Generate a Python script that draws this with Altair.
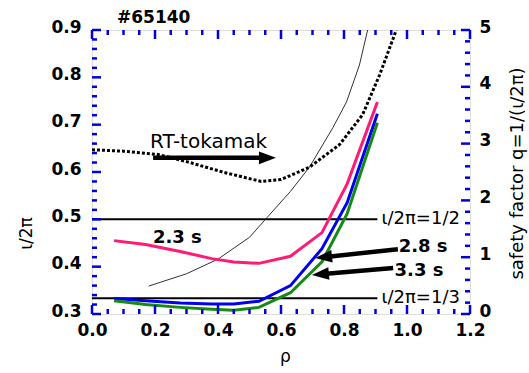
import altair as alt
import pandas as pd

FONT = "DejaVu Sans"
AXIS_BLUE = "#0000dd"
PINK = "#ff1a75"
BLUE = "#0000ee"
GREEN = "#158a15"

# ---- data (rho, iota/2pi) ----
rho_23 = [0.07, 0.17, 0.28, 0.38, 0.45, 0.53, 0.63, 0.73, 0.81, 0.906]
iota_23 = [0.455, 0.447, 0.432, 0.417, 0.410, 0.407, 0.422, 0.472, 0.575, 0.748]
rho_28 = [0.07, 0.17, 0.28, 0.38, 0.45, 0.53, 0.63, 0.73, 0.81, 0.906]
iota_28 = [0.333, 0.328, 0.323, 0.321, 0.321, 0.327, 0.360, 0.438, 0.535, 0.723]
rho_33 = [0.07, 0.17, 0.28, 0.38, 0.45, 0.53, 0.63, 0.73, 0.81, 0.906]
iota_33 = [0.328, 0.320, 0.314, 0.310, 0.308, 0.314, 0.345, 0.410, 0.512, 0.704]
rho_rt = [0.0, 0.1, 0.21, 0.3, 0.42, 0.537, 0.6, 0.69, 0.786, 0.859, 0.913, 0.966]
iota_rt = [0.647, 0.644, 0.637, 0.622, 0.599, 0.580, 0.584, 0.610, 0.658, 0.721, 0.805, 0.9]
rho_thin = [0.18, 0.3, 0.4, 0.5, 0.556, 0.63, 0.69, 0.765, 0.808, 0.849, 0.875]
iota_thin = [0.359, 0.385, 0.416, 0.462, 0.504, 0.559, 0.610, 0.694, 0.748, 0.826, 0.9]

res_iota = [0.5, 1 / 3]
res_x_end = [0.906, 0.906]
res_labels = ["\u03b9/2\u03c0=1/2", "\u03b9/2\u03c0=1/3"]
res_label_x = [1.168, 1.168]

time_labels = ["2.3 s", "2.8 s", "3.3 s"]
time_label_x = [0.271, 1.051, 1.038]
time_label_y = [0.461, 0.442, 0.390]

rt_label = ["RT-tokamak"]
rt_label_x = [0.370]
rt_label_y = [0.663]

# arrows: tail -> head centre (data units), head angle (deg)
arrow_x = [0.194, 0.971, 0.956]
arrow_y = [0.630, 0.437, 0.397]
arrow_x2 = [0.557, 0.735, 0.725]
arrow_y2 = [0.630, 0.420, 0.384]
arrow_ang = [0, 173.8, 175]

# tick values
x_major = [0.0, 0.2, 0.4, 0.6, 0.8, 1.0, 1.2]
x_minor = [round(i * 0.05, 2) for i in range(25) if i % 4]
y_major = [0.3, 0.4, 0.5, 0.6, 0.7, 0.8, 0.9]
y_minor = [round(0.3 + i * 0.02, 2) for i in range(31) if i % 5]
q_major = [0, 1, 2, 3, 4, 5]
q_minor = [round(i * 0.2, 1) for i in range(26) if i % 5]

W, H = 378, 284
MAJ, MIN = 9, 5

def curve(xs, ys):
    return pd.DataFrame({"x": xs, "y": ys})

x_axis = alt.Axis(values=x_major, format=".1f", ticks=False, domain=False, grid=False,
                  labelFont=FONT, labelFontSize=17, labelFontWeight="bold", labelColor="black",
                  labelPadding=8, labelFlush=False, labelOverlap=False,
                  title="\u03c1", titleFont=FONT, titleFontSize=17, titleFontWeight="normal",
                  titleX=193, titleY=47, titleBaseline="alphabetic", titleColor="black")
y_axis = alt.Axis(values=y_major, format=".1f", ticks=False, domain=False, grid=False,
                  labelFont=FONT, labelFontSize=17, labelFontWeight="bold", labelColor="black",
                  labelPadding=11, labelFlush=False, labelOverlap=False, labelOffset=-3,
                  title="\u03b9/2\u03c0", titleFont=FONT, titleFontSize=17, titleFontWeight="normal",
                  titleX=-66, titleY=203, titleAngle=270, titleAlign="center",
                  titleBaseline="middle", titleColor="black")
q_axis = alt.Axis(values=q_major, format="d", orient="right", ticks=False, domain=False, grid=False,
                  labelFont=FONT, labelFontSize=17, labelFontWeight="bold", labelColor="black",
                  labelPadding=9, labelFlush=False, labelOverlap=False, labelOffset=-3,
                  title="safety factor q=1/(\u03b9/2\u03c0)", titleFont=FONT, titleFontSize=18,
                  titleFontWeight="normal", titleX=47, titleY=143, titleAngle=270,
                  titleAlign="center", titleBaseline="middle", titleColor="black")

X = alt.X("x:Q", scale=alt.Scale(domain=[0, 1.2], nice=False, zero=False), axis=x_axis)
Y = alt.Y("y:Q", scale=alt.Scale(domain=[0.3, 0.9], nice=False, zero=False), axis=y_axis)
Q = alt.Y("q:Q", scale=alt.Scale(domain=[0, 5], nice=False, zero=False), axis=q_axis)

layers = []

# resonance lines
res_df = pd.DataFrame({"x": [0.0, 0.0], "x2": res_x_end, "y": res_iota})
layers.append(alt.Chart(res_df).mark_rule(color="black", strokeWidth=2).encode(
    x=X, x2="x2:Q", y=Y))

# thin curve
layers.append(alt.Chart(curve(rho_thin, iota_thin)).mark_line(
    color="#333333", strokeWidth=1, clip=True).encode(x=X, y=Y))
# RT-tokamak dotted
layers.append(alt.Chart(curve(rho_rt, iota_rt)).mark_line(
    color="black", strokeWidth=3, strokeDash=[3, 2], clip=True).encode(x=X, y=Y))
# time curves
for xs, ys, col in [(rho_23, iota_23, PINK), (rho_28, iota_28, BLUE), (rho_33, iota_33, GREEN)]:
    layers.append(alt.Chart(curve(xs, ys)).mark_line(
        color=col, strokeWidth=3, clip=True).encode(x=X, y=Y))

# arrows
arr_df = pd.DataFrame({"x": arrow_x, "y": arrow_y, "x2": arrow_x2, "y2": arrow_y2})
layers.append(alt.Chart(arr_df).mark_rule(color="black", strokeWidth=4.5).encode(
    x=X, x2="x2:Q", y=Y, y2="y2:Q"))
head_df = pd.DataFrame({"x": arrow_x2, "y": arrow_y2, "ang": arrow_ang})
layers.append(alt.Chart(head_df).mark_point(
    shape="M -1 -0.75 L 1 0 L -1 0.75 Z", filled=True, size=289, color="black",
    opacity=1, strokeWidth=0).encode(x=X, y=Y, angle=alt.Angle("ang:Q", scale=None)))

# texts
res_lab_df = pd.DataFrame({"x": res_label_x, "y": res_iota, "t": res_labels})
layers.append(alt.Chart(res_lab_df).mark_text(
    font=FONT, fontSize=18, align="right", baseline="middle", color="black").encode(
    x=X, y=Y, text="t:N"))
time_df = pd.DataFrame({"x": time_label_x, "y": time_label_y, "t": time_labels})
layers.append(alt.Chart(time_df).mark_text(
    font=FONT, fontSize=18, fontWeight="bold", align="center", baseline="middle",
    color="black").encode(x=X, y=Y, text="t:N"))
rt_df = pd.DataFrame({"x": rt_label_x, "y": rt_label_y, "t": rt_label})
layers.append(alt.Chart(rt_df).mark_text(
    font=FONT, fontSize=20, align="center", baseline="middle", color="black").encode(
    x=X, y=Y, text="t:N"))

# frame ticks (x: bottom & top, y left)
for vals, ln in [(x_major, MAJ), (x_minor, MIN)]:
    d = pd.DataFrame({"x": vals})
    layers.append(alt.Chart(d).mark_rule(color=AXIS_BLUE, strokeWidth=2.5).encode(
        x=X, y=alt.value(H), y2=alt.value(H - ln)))
    layers.append(alt.Chart(d).mark_rule(color=AXIS_BLUE, strokeWidth=2.5).encode(
        x=X, y=alt.value(0), y2=alt.value(ln)))
for vals, ln in [(y_major, MAJ), (y_minor, MIN)]:
    d = pd.DataFrame({"y": vals})
    layers.append(alt.Chart(d).mark_rule(color=AXIS_BLUE, strokeWidth=2.5).encode(
        y=Y, x=alt.value(0), x2=alt.value(ln)))

left = alt.layer(*layers)

right_layers = []
for vals, ln in [(q_major, MAJ), (q_minor, MIN)]:
    d = pd.DataFrame({"q": vals})
    right_layers.append(alt.Chart(d).mark_rule(color=AXIS_BLUE, strokeWidth=2.5).encode(
        y=Q, x=alt.value(W), x2=alt.value(W - ln)))
right = alt.layer(*right_layers)

chart = alt.layer(left, right).resolve_scale(y="independent").properties(
    width=W, height=H,
    title=alt.TitleParams(text="#65140", anchor="start", frame="group", dx=25, offset=-9,
                          font=FONT, fontSize=17, fontWeight="bold", color="black"),
    autosize=alt.AutoSizeParams(type="none"),
    padding={"left": 92, "top": 30, "right": 59, "bottom": 59},
).configure_view(stroke=AXIS_BLUE, strokeWidth=4).configure(background="white")

chart.save("out.html", embed_options={"renderer": "svg", "actions": False})
